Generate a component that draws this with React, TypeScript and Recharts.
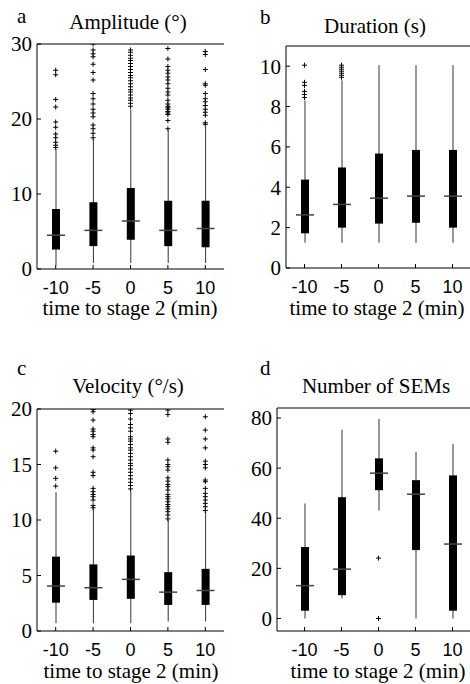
import React from "react";
import {
  ComposedChart,
  Bar,
  Scatter,
  XAxis,
  YAxis,
  ReferenceLine,
} from "recharts";

const times = ["-10", "-5", "0", "5", "10"];

// each row: [lower whisker, q1, median, q3, upper whisker]
const amplitudeStats = [
  [0.5, 2.6, 4.5, 8.0, 16.0],
  [0.8, 3.05, 5.15, 8.9, 17.3],
  [0.8, 3.9, 6.4, 10.8, 21.3],
  [0.8, 3.05, 5.15, 9.1, 18.5],
  [0.8, 2.9, 5.4, 9.1, 19.0],
];
const amplitudeOutliers = [
  [26.5, 25.9, 22.6, 21.6, 19.6, 18.9, 18.0, 17.5, 16.9, 16.5, 16.2],
  [30.0, 29.2, 28.7, 28.3, 27.3, 26.2, 25.2, 23.4, 22.7, 22.0, 21.3, 20.8, 20.3, 19.2, 18.7, 18.1, 17.5],
  [29.2, 28.9, 28.5, 28.1, 27.8, 27.4, 27.0, 26.6, 26.2, 25.8, 25.5, 25.1, 24.7, 24.3, 23.9, 23.6, 23.2, 22.8, 22.5, 22.1, 21.7],
  [29.4, 28.0, 27.0, 26.5, 26.1, 25.6, 25.2, 24.7, 24.1, 23.6, 23.2, 22.5, 22.0, 21.7, 21.5, 21.3, 21.0, 20.8, 20.6, 19.8, 18.7],
  [29.0, 28.6, 26.6, 24.7, 24.5, 23.4, 22.7, 22.3, 21.8, 21.3, 20.9, 20.5, 19.5, 19.3],
];

const durationStats = [
  [1.25, 1.72, 2.63, 4.38, 8.3],
  [1.25, 2.0, 3.15, 4.98, 9.3],
  [1.25, 2.2, 3.46, 5.67, 10.05],
  [1.25, 2.24, 3.56, 5.85, 10.05],
  [1.25, 2.0, 3.56, 5.85, 10.05],
];
const durationOutliers = [
  [8.45, 8.6, 8.75, 9.05, 9.2, 10.05],
  [9.45, 9.55, 9.65, 9.75, 9.85, 9.95, 10.05],
  [],
  [],
  [],
];

const velocityStats = [
  [0.7, 2.55, 4.05, 6.7, 12.5],
  [0.7, 2.8, 3.9, 6.0, 11.0],
  [0.7, 2.9, 4.65, 6.8, 12.6],
  [0.85, 2.35, 3.5, 5.3, 10.0],
  [0.85, 2.35, 3.65, 5.6, 10.7],
];
const velocityOutliers = [
  [16.2, 14.7, 13.75, 13.05],
  [19.95, 19.75, 19.0, 18.2, 18.0, 17.7, 17.5, 16.5, 16.3, 15.7, 14.3, 14.0, 12.85, 12.55, 12.3, 12.1, 11.8, 11.3, 11.1],
  [19.9, 19.6, 19.1, 18.6, 18.3, 18.0, 17.5, 17.3, 17.1, 16.8, 16.5, 16.3, 16.0, 15.7, 15.4, 15.1, 14.9, 14.6, 14.3, 14.0, 13.7, 13.4, 13.1, 12.8],
  [19.9, 19.5, 17.3, 17.0, 15.4, 15.0, 14.8, 14.5, 13.8, 13.5, 13.2, 13.0, 12.7, 12.3, 12.1, 11.9, 11.65, 11.4, 11.2, 11.0, 10.75, 10.45, 10.1],
  [19.3, 18.1, 17.3, 16.5, 15.3, 15.0, 14.7, 13.6, 13.45, 12.85, 12.4, 12.1, 11.8, 11.5, 11.2, 10.85],
];

const semStats = [
  [0, 3.1, 13.1, 28.5, 45.9],
  [8.0, 9.3, 19.7, 48.4, 75.3],
  [43.1, 51.2, 58.0, 63.9, 79.6],
  [0, 27.3, 49.6, 55.2, 66.4],
  [0, 3.1, 29.7, 57.1, 69.7],
];
const semOutliers = [[], [], [24.1, 0], [], []];

const serif = "'Liberation Serif', 'Times New Roman', serif";
const sans = "'Liberation Sans', Arial, sans-serif";

function boxRows(stats: number[][]) {
  return times.map((t, i) => ({
    t,
    range: [stats[i][0], stats[i][4]],
    q1: stats[i][1],
    med: stats[i][2],
    q3: stats[i][3],
  }));
}

function outlierRows(outs: number[][]) {
  return times.flatMap((t, i) => outs[i].map((v) => ({ t, v })));
}

function BoxShape(props: any) {
  const { x, y, width, height, payload } = props;
  const [lo, hi] = payload.range;
  const k = height / (hi - lo);
  const py = (v: number) => y + (hi - v) * k;
  const cx = x + width / 2;
  return (
    <g>
      <line x1={cx} x2={cx} y1={y} y2={y + height} stroke="#333" strokeWidth={1} />
      <rect
        x={cx - 4}
        y={py(payload.q3)}
        width={8}
        height={py(payload.q1) - py(payload.q3)}
        fill="#000"
      />
      <line
        x1={cx - 9}
        x2={cx + 9}
        y1={py(payload.med)}
        y2={py(payload.med)}
        stroke="#444"
        strokeWidth={1.5}
      />
    </g>
  );
}

function Plus(props: any) {
  const { cx, cy } = props;
  return (
    <path
      d={`M${cx - 2.5},${cy}H${cx + 2.5}M${cx},${cy - 2.5}V${cy + 2.5}`}
      stroke="#000"
      strokeWidth={1}
    />
  );
}

function TimeTick(props: any) {
  const { x, y, payload } = props;
  return (
    <text
      x={x}
      y={y}
      dy="0.71em"
      textAnchor="middle"
      fill="#000"
      fontSize={18}
      fontFamily={sans}
    >
      {payload.value}
    </text>
  );
}

interface PanelProps {
  left: number;
  top: number;
  width: number;
  height: number;
  margin: { top: number; right: number; bottom: number; left: number };
  yWidth: number;
  domain: [number, number];
  ticks: number[];
  stats: number[][];
  outliers: number[][];
  padLeft?: number;
}

function Panel(p: PanelProps) {
  return (
    <div style={{ position: "absolute", left: p.left, top: p.top }}>
      <ComposedChart
        width={p.width}
        height={p.height}
        data={boxRows(p.stats)}
        margin={p.margin}
      >
        <XAxis
          dataKey="t"
          type="category"
          allowDuplicatedCategory={false}
          height={50}
          padding={{ left: p.padLeft ?? 0, right: 0 }}
          axisLine={{ stroke: "#000" }}
          tickLine={{ stroke: "#000" }}
          tickSize={-4}
          tickMargin={16}
          tick={TimeTick}
        />
        <YAxis
          type="number"
          domain={p.domain}
          ticks={p.ticks}
          width={p.yWidth}
          allowDataOverflow
          axisLine={{ stroke: "#000" }}
          tickLine={{ stroke: "#000" }}
          tickSize={-4}
          tickMargin={9}
          tick={{ fill: "#000", fontSize: 21, fontFamily: serif }}
        />
        <YAxis
          yAxisId="r"
          orientation="right"
          type="number"
          domain={p.domain}
          ticks={p.ticks}
          width={0}
          allowDataOverflow
          axisLine={{ stroke: "#000" }}
          tickLine={{ stroke: "#000" }}
          tickSize={-4}
          tick={false}
        />
        <ReferenceLine y={p.domain[1]} stroke="#000" />
        <Bar
          dataKey="range"
          barSize={8}
          shape={BoxShape}
          isAnimationActive={false}
        />
        <Scatter
          data={outlierRows(p.outliers)}
          dataKey="v"
          shape={Plus}
          isAnimationActive={false}
        />
      </ComposedChart>
    </div>
  );
}

const xTitle = "time to stage 2 (min)";

const titles = [
  { text: "a", x: 17, y: 23, anchor: "start" },
  { text: "Amplitude (°)", x: 128, y: 29, anchor: "middle" },
  { text: "b", x: 260, y: 24, anchor: "start" },
  { text: "Duration (s)", x: 375, y: 33, anchor: "middle" },
  { text: "c", x: 17, y: 375, anchor: "start" },
  { text: "Velocity (°/s)", x: 128, y: 393, anchor: "middle" },
  { text: "d", x: 260, y: 375, anchor: "start" },
  { text: "Number of SEMs", x: 376, y: 393, anchor: "middle" },
  { text: xTitle, x: 130, y: 315, anchor: "middle" },
  { text: xTitle, x: 377, y: 315, anchor: "middle" },
  { text: xTitle, x: 131, y: 678, anchor: "middle" },
  { text: xTitle, x: 378, y: 678, anchor: "middle" },
];

export default function App() {
  return (
    <div
      style={{
        position: "absolute",
        left: 0,
        top: 0,
        width: 470,
        height: 684,
        overflow: "hidden",
        background: "#fff",
      }}
    >
      <Panel
        left={0}
        top={0}
        width={235}
        height={330}
        margin={{ top: 44, right: 11, bottom: 11, left: 0 }}
        yWidth={37}
        domain={[0, 30]}
        ticks={[0, 10, 20, 30]}
        stats={amplitudeStats}
        outliers={amplitudeOutliers}
      />
      <Panel
        left={235}
        top={0}
        width={240}
        height={330}
        margin={{ top: 46, right: 4, bottom: 12, left: 0 }}
        yWidth={51}
        domain={[0, 11]}
        ticks={[0, 2, 4, 6, 8, 10]}
        stats={durationStats}
        outliers={durationOutliers}
      />
      <Panel
        left={0}
        top={330}
        width={235}
        height={354}
        margin={{ top: 79, right: 11, bottom: 3, left: 0 }}
        yWidth={37}
        domain={[0, 20]}
        ticks={[0, 5, 10, 15, 20]}
        stats={velocityStats}
        outliers={velocityOutliers}
      />
      <Panel
        left={235}
        top={330}
        width={240}
        height={354}
        margin={{ top: 78, right: 4, bottom: 3, left: 0 }}
        yWidth={42}
        domain={[-5, 84]}
        ticks={[0, 20, 40, 60, 80]}
        stats={semStats}
        outliers={semOutliers}
        padLeft={9}
      />
      <svg
        width={470}
        height={684}
        style={{ position: "absolute", left: 0, top: 0, pointerEvents: "none" }}
      >
        {titles.map((d, i) => (
          <text
            key={i}
            x={d.x}
            y={d.y}
            textAnchor={d.anchor as any}
            fontFamily={serif}
            fontSize={21}
            fill="#000"
          >
            {d.text}
          </text>
        ))}
      </svg>
    </div>
  );
}
